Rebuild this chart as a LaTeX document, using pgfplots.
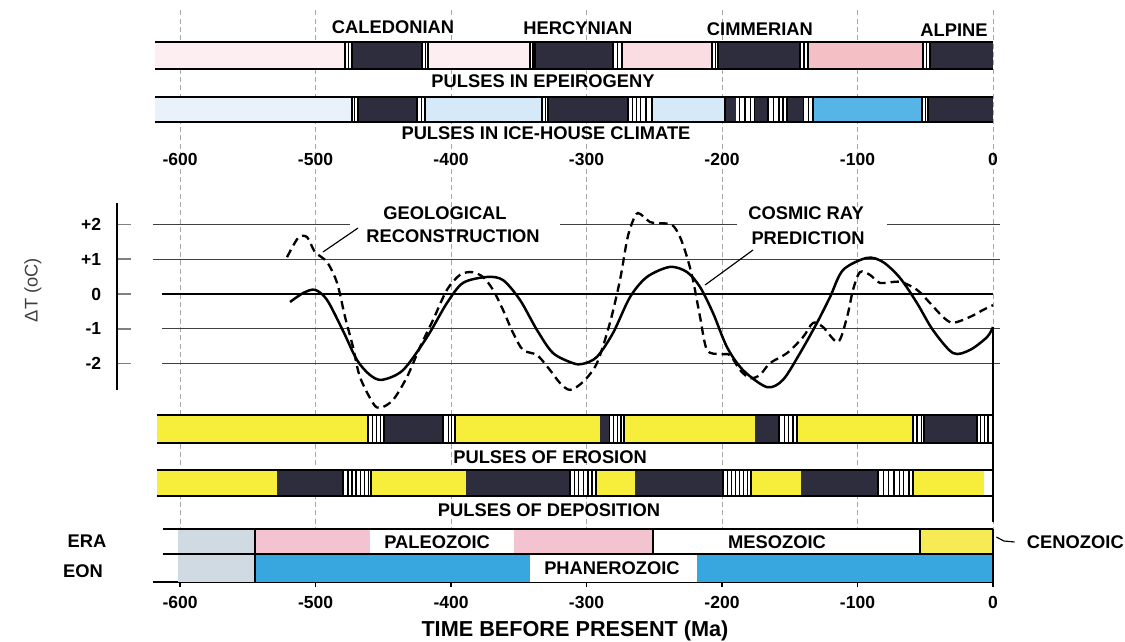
\documentclass[border=0pt]{standalone}
\usepackage{pgfplots}
\pgfplotsset{compat=1.18}
\usepackage{fontspec}
\setmainfont{Liberation Sans}

\definecolor{dk}{HTML}{2E2D3D}
\definecolor{pkA}{HTML}{FCEEF1}
\definecolor{pkB}{HTML}{FADDE2}
\definecolor{pkC}{HTML}{F5BFC6}
\definecolor{icA}{HTML}{E9F2FA}
\definecolor{icB}{HTML}{D5E9F8}
\definecolor{icC}{HTML}{57B4E6}
\definecolor{yl}{HTML}{F7EE3B}
\definecolor{eragr}{HTML}{D0DAE3}
\definecolor{erapk}{HTML}{F3C3CF}
\definecolor{cenoy}{HTML}{F6EA55}
\definecolor{eonbl}{HTML}{39A7DF}

\newcommand{\seg}[3]{\addplot[fill=#1,draw=none] coordinates {(#2,0) (#2,1) (#3,1) (#3,0)} --cycle;}
\newcommand{\stripes}[1]{\addplot[ycomb,black,line width=0.8pt,mark=none] coordinates {#1};}
\newcommand{\rims}[1]{\addplot[black,line width=1pt] coordinates {(#1,0) (0,0)};\addplot[black,line width=1pt] coordinates {(#1,1) (0,1)};}

\pgfplotsset{
  band/.style={scale only axis, width=504.06pt, xmin=-620, xmax=0, ymin=0, ymax=1,
    axis lines=none, clip=false, anchor=north east},
}
\tikzset{lab/.style={font=\fontsize{11}{13}\selectfont\bfseries, inner sep=1pt}}

\begin{document}
\begin{tikzpicture}
\useasboundingbox (0,0) rectangle (675pt,-385.2pt);

% frame: vertical grid and bottom axis
\begin{axis}[scale only axis, width=504.06pt, height=344.4pt,
  xmin=-620, xmax=0, ymin=-582, ymax=-8,
  anchor=north east, at={(595.8pt,-4.8pt)}, clip=false,
  axis x line*=bottom, axis y line=none,
  xtick={-600,-500,-400,-300,-200,-100,0},
  xticklabels={-600,-500,-400,-300,-200,-100,0},
  xtick align=center, major tick length=6pt,
  xmajorgrids, grid style={gray!70, dash pattern=on 3pt off 2pt, line width=0.5pt},
  x axis line style={line width=1pt}, xtick style={black, line width=1pt},
  xticklabel style={font=\fontsize{10.5}{12}\selectfont\bfseries, yshift=-2pt}]
\addplot[draw=none] coordinates {(-600,-300)};
\end{axis}

% pulses in epeirogeny
\begin{axis}[band, height=16.2pt, at={(595.8pt,-25.2pt)}]
\seg{pkA}{-618.5}{-478.2}
\seg{white}{-478.2}{-473.1}
\seg{dk}{-473.1}{-421.4}
\seg{white}{-421.4}{-417}
\seg{pkA}{-417}{-341.7}
\seg{white}{-341.7}{-338}
\seg{dk}{-338}{-280.4}
\seg{white}{-280.4}{-273.8}
\seg{pkB}{-273.8}{-207.4}
\seg{white}{-207.4}{-203}
\seg{dk}{-203}{-142.4}
\seg{white}{-142.4}{-136.5}
\seg{pkC}{-136.5}{-51.7}
\seg{white}{-51.7}{-46.5}
\seg{dk}{-46.5}{0}
\stripes{(-478.2,1)(-475.5,1)(-473.1,1)(-421.4,1)(-419,1)(-417,1)(-341.7,1)(-339.5,1)(-338,1)(-280.4,1)(-277,1)(-273.8,1)(-207.4,1)(-205,1)(-203,1)(-142.4,1)(-139.5,1)(-136.5,1)(-51.7,1)(-49,1)(-46.5,1)}
\rims{-618.5}
\end{axis}

% pulses in ice-house climate
\begin{axis}[band, height=15pt, at={(595.8pt,-58.2pt)}]
\seg{icA}{-618.5}{-473.1}
\seg{white}{-473.1}{-468.6}
\seg{dk}{-468.6}{-425.1}
\seg{white}{-425.1}{-419.2}
\seg{icB}{-419.2}{-332.8}
\seg{white}{-332.8}{-328.4}
\seg{dk}{-328.4}{-269.4}
\seg{white}{-269.4}{-251.7}
\seg{icB}{-251.7}{-197.8}
\seg{dk}{-197.8}{-190}
\seg{white}{-190}{-176}
\seg{dk}{-176}{-166}
\seg{white}{-166}{-152}
\seg{dk}{-152}{-140}
\seg{white}{-140}{-132.8}
\seg{icC}{-132.8}{-52.4}
\seg{white}{-52.4}{-48}
\seg{dk}{-48}{0}
\stripes{(-473.1,1)(-471,1)(-468.6,1)(-425.1,1)(-422,1)(-419.2,1)(-332.8,1)(-330.5,1)(-328.4,1)(-269.4,1)(-266,1)(-263,1)(-260,1)(-256,1)(-251.7,1)(-197.8,1)(-187,1)(-183,1)(-179,1)(-176,1)(-166,1)(-162,1)(-158,1)(-155,1)(-152,1)(-140,1)(-136,1)(-132.8,1)(-52.4,1)(-50,1)(-48,1)}
\rims{-618.5}
\end{axis}

% pulses of erosion
\begin{axis}[band, height=16.8pt, at={(595.8pt,-249pt)}]
\seg{yl}{-617}{-461.3}
\seg{white}{-461.3}{-449.4}
\seg{dk}{-449.4}{-405.9}
\seg{white}{-405.9}{-397}
\seg{yl}{-397}{-290}
\seg{dk}{-290}{-283}
\seg{white}{-283}{-272.3}
\seg{yl}{-272.3}{-175.6}
\seg{dk}{-175.6}{-157.9}
\seg{white}{-157.9}{-144.6}
\seg{yl}{-144.6}{-59}
\seg{white}{-59}{-50.9}
\seg{dk}{-50.9}{-11.8}
\seg{white}{-11.8}{0}
\stripes{(-461.3,1)(-458,1)(-455,1)(-452,1)(-449.4,1)(-405.9,1)(-402,1)(-399.5,1)(-397,1)(-283,1)(-280,1)(-277,1)(-274.5,1)(-272.3,1)(-157.9,1)(-154,1)(-151,1)(-147.5,1)(-144.6,1)(-59,1)(-56,1)(-53,1)(-50.9,1)(-11.8,1)(-9,1)(-6.5,1)(-3.7,1)}
\rims{-617}
\end{axis}

% pulses of deposition
\begin{axis}[band, height=15.6pt, at={(595.8pt,-282pt)}]
\seg{yl}{-617}{-528.4}
\seg{dk}{-528.4}{-479.7}
\seg{white}{-479.7}{-459}
\seg{yl}{-459}{-388.9}
\seg{dk}{-388.9}{-312.2}
\seg{white}{-312.2}{-293}
\seg{yl}{-293}{-264.2}
\seg{dk}{-264.2}{-199.3}
\seg{white}{-199.3}{-178.6}
\seg{yl}{-178.6}{-141.7}
\seg{dk}{-141.7}{-84.9}
\seg{white}{-84.9}{-59}
\seg{yl}{-59}{-6.6}
\seg{white}{-6.6}{0}
\stripes{(-479.7,1)(-476,1)(-473,1)(-470,1)(-467,1)(-464,1)(-461,1)(-459,1)(-312.2,1)(-309,1)(-306,1)(-302,1)(-299,1)(-296,1)(-293,1)(-199.3,1)(-196,1)(-193,1)(-190,1)(-187,1)(-184,1)(-181,1)(-178.6,1)(-84.9,1)(-81,1)(-77,1)(-73,1)(-69,1)(-66,1)(-62,1)(-59,1)(0,1)}
\rims{-617}
\end{axis}

% era
\begin{axis}[band, height=15pt, at={(595.8pt,-317.4pt)}]
\seg{eragr}{-601.5}{-544.6}
\seg{erapk}{-544.6}{-460}
\seg{white}{-460}{-353.5}
\seg{erapk}{-353.5}{-250.9}
\seg{white}{-250.9}{-53.9}
\seg{cenoy}{-53.9}{0}
\addplot[ycomb,black,line width=1.2pt,mark=none] coordinates {(-544.6,1)(-250.9,1)(-53.9,1)(0,1)};
\rims{-612.5}
\end{axis}

% eon
\begin{axis}[band, height=16.8pt, at={(595.8pt,-332.4pt)}]
\seg{eragr}{-601.5}{-544.6}
\seg{eonbl}{-544.6}{-341.7}
\seg{white}{-341.7}{-218.5}
\seg{eonbl}{-218.5}{0}
\addplot[ycomb,black,line width=1.2pt,mark=none] coordinates {(-544.6,1)(0,1)};
\addplot[black,line width=1pt] coordinates {(-612.5,1) (0,1)};
\end{axis}

% temperature curves
\begin{axis}[scale only axis, width=504.06pt, height=144pt,
  xmin=-620, xmax=0, ymin=-3.396, ymax=3.511,
  anchor=north east, at={(595.8pt,-103.2pt)}, clip=false,
  axis x line*=top, axis y line=none, x axis line style={draw=none},
  xtick={-600,-500,-400,-300,-200,-100,0},
  xticklabels={-600,-500,-400,-300,-200,-100,0},
  major tick length=0pt,
  xticklabel style={font=\fontsize{10.5}{12}\selectfont\bfseries}]
% horizontal reference lines
\addplot[black!75,line width=0.9pt] coordinates {(-620,2) (-474.5,2)};
\addplot[black!75,line width=0.9pt] coordinates {(-319.6,2) (-189,2)};
\addplot[black!75,line width=0.9pt] coordinates {(-78.2,2) (5,2)};
\addplot[black!75,line width=0.9pt] coordinates {(-620,1) (5,1)};
\addplot[black,line width=1.1pt] coordinates {(-613,0) (0,0)};
\addplot[black!75,line width=0.9pt] coordinates {(-613,-1) (5,-1)};
\addplot[black!75,line width=0.9pt] coordinates {(-613,-2) (5,-2)};
% cosmic ray prediction
\addplot[black, line width=1.5pt, smooth] table {
x y
-518.8 -0.23
-509 0.03
-500.4 0.12
-491.5 -0.17
-479.7 -1.06
-469.4 -1.90
-459.8 -2.33
-450.9 -2.47
-435.4 -2.19
-417.7 -1.24
-403 -0.26
-391.1 0.32
-373.4 0.49
-361.6 0.40
-349.1 -0.17
-336.5 -1.04
-324.7 -1.70
-310 -1.99
-302.6 -2.01
-292.3 -1.81
-280.4 -1.12
-267.9 -0.09
-255.4 0.49
-238.4 0.78
-225.8 0.63
-216.2 0.20
-206.6 -0.55
-196.3 -1.53
-184.5 -2.19
-166.8 -2.68
-155 -2.47
-142.4 -1.70
-129.9 -0.83
-120.3 -0.09
-110.7 0.69
-93 1.04
-81.2 0.92
-68.6 0.46
-56.1 -0.26
-44.3 -1.04
-29.5 -1.70
-17 -1.61
-4.4 -1.24
0 -0.95
};
% geological reconstruction
\addplot[black, line width=1.4pt, dash pattern=on 5pt off 3pt, smooth] table {
x y
-521 1.06
-512.9 1.61
-506.3 1.64
-500.4 1.21
-491.5 0.92
-484.1 0.32
-478.2 -0.66
-472.3 -1.53
-467.2 -2.39
-457.6 -3.14
-452.4 -3.28
-442.8 -3.05
-432.5 -2.39
-422.9 -1.53
-413.3 -0.75
-403 0.12
-393.4 0.55
-384.5 0.63
-376.4 0.49
-369 0.12
-361.6 -0.46
-354.2 -1.12
-346.9 -1.61
-336.5 -1.76
-326.9 -2.19
-319.6 -2.56
-312.2 -2.76
-302.6 -2.53
-292.3 -1.99
-282.7 -0.83
-275.3 0.40
-270.1 1.55
-266.4 2.04
-262 2.33
-253.1 2.07
-247.2 2.04
-236.9 1.99
-231 1.64
-225.8 1.06
-221.4 0.40
-216.2 -0.66
-211.1 -1.61
-201.5 -1.73
-194.1 -1.76
-186.7 -2.19
-179.3 -2.42
-172 -2.33
-164.6 -1.99
-152 -1.70
-140.2 -1.24
-132.8 -0.83
-125.5 -0.95
-114.4 -1.38
-107.7 -0.66
-103.3 0.12
-98.2 0.63
-90.8 0.55
-83.4 0.32
-68.6 0.35
-56.1 0.12
-46.5 -0.26
-36.9 -0.66
-29.5 -0.83
-17 -0.66
-7.4 -0.46
0 -0.32
};
\end{axis}

% delta T scale
\begin{axis}[scale only axis, width=1pt, height=112.2pt,
  xmin=0, xmax=1, ymin=-2.763, ymax=2.619,
  anchor=north west, at={(70.2pt,-121.8pt)},
  axis y line*=left, axis x line=none,
  ytick={-2,-1,0,1,2}, yticklabels={-2,-1,0,+1,+2},
  ytick align=inside, major tick length=8.4pt,
  y axis line style={line width=1.3pt}, ytick style={line width=1pt},
  yticklabel style={font=\fontsize{10.5}{12}\selectfont\bfseries, xshift=-6pt}]
\addplot[draw=none] coordinates {(0.5,0)};
\end{axis}

% overlay: labels and leader lines
\begin{axis}[scale only axis, width=504.06pt, height=344.4pt,
  xmin=-620, xmax=0, ymin=-582, ymax=-8,
  anchor=north east, at={(595.8pt,-4.8pt)}, clip=false, axis lines=none]
\addplot[black,line width=1.4pt] coordinates {(0,-327) (0,-522)};
\addplot[black,line width=0.7pt] coordinates {(-494.5,-252) (-468.6,-228)};
\addplot[black,line width=0.7pt] coordinates {(-212.5,-285) (-177.1,-250)};
\addplot[black,line width=0.7pt] coordinates {(2.5,-537) (8,-541) (16,-542)};
\node[lab] at (axis cs:-442.8,-27) {CALEDONIAN};
\node[lab] at (axis cs:-306.3,-28) {HERCYNIAN};
\node[lab] at (axis cs:-172,-29) {CIMMERIAN};
\node[lab] at (axis cs:-28.8,-30) {ALPINE};
\node[lab] at (axis cs:-332.1,-81) {PULSES IN EPEIROGENY};
\node[lab] at (axis cs:-329.9,-133) {PULSES IN ICE-HOUSE CLIMATE};
\node[lab] at (axis cs:-404.4,-213) {GEOLOGICAL};
\node[lab] at (axis cs:-398.5,-236) {RECONSTRUCTION};
\node[lab] at (axis cs:-138,-213) {COSMIC RAY};
\node[lab] at (axis cs:-136.5,-238) {PREDICTION};
\node[lab] at (axis cs:-326.9,-457) {PULSES OF EROSION};
\node[lab] at (axis cs:-327.7,-510) {PULSES OF DEPOSITION};
\node[lab] at (axis cs:-410.3,-542) {PALEOZOIC};
\node[lab] at (axis cs:-159.4,-542) {MESOZOIC};
\node[lab] at (axis cs:-281.2,-568) {PHANEROZOIC};
\node[lab, anchor=west] at (axis cs:23.6,-542) {CENOZOIC};
\node[lab] at (axis cs:-668.6,-541) {ERA};
\node[lab] at (axis cs:-671.6,-571) {EON};
\node[font=\fontsize{11}{13}\selectfont, text=black!75, rotate=90] at (axis cs:-708.5,-290) {ΔT (oC)};
\node[font=\fontsize{13}{15}\selectfont\bfseries] at (axis cs:-308.5,-631) {TIME BEFORE PRESENT (Ma)};
\end{axis}
\end{tikzpicture}
\end{document}
